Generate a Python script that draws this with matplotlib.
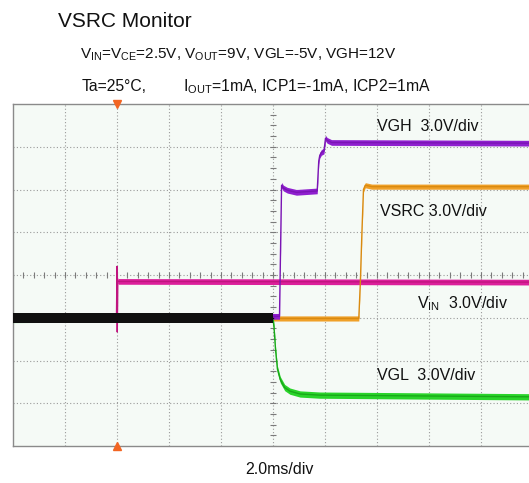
import numpy as np
import matplotlib.pyplot as plt

plt.rcParams['font.family'] = ['Liberation Sans', 'DejaVu Sans']
plt.rcParams['mathtext.fontset'] = 'custom'
plt.rcParams['mathtext.rm'] = 'Liberation Sans'
plt.rcParams['mathtext.it'] = 'Liberation Sans:italic'
plt.rcParams['mathtext.bf'] = 'Liberation Sans:bold'

# ---- scope settings ----
MS_PER_DIV = 2.0
V_PER_DIV = 3.0
T_MIN, T_MAX = -4.0, 16.0      # 10 div of time, trigger at t = 0
V_MIN, V_MAX = -9.0, 15.0      # 8 div of voltage, ground at -1 div

# ---- captured waveforms (t in ms, v in V) ----
# VIN : input rail, steps up at the trigger
t_vin = [-4.0, -0.02, 0.0, 0.01, 0.03, 0.06, 16.0]
v_vin = [0.0, 0.0, 3.6, -1.0, 2.6, 2.55, 2.5]

# VGH : gate-high rail, two-stage rise
t_vgh = [-4.0, 6.25, 6.33, 6.40, 6.55, 6.9, 7.3, 7.7, 7.76, 7.80, 7.86,
         7.96, 8.02, 8.08, 8.25, 16.0]
v_vgh = [0.1, 0.1, 9.3, 9.1, 8.95, 8.8, 8.85, 8.9, 11.0, 11.4, 11.6,
         11.7, 12.6, 12.45, 12.3, 12.25]

# VSRC : source output, comes up after VGH
t_vsrc = [6.0, 9.30, 9.36, 9.42, 9.48, 9.55, 9.8, 16.0]
v_vsrc = [-0.05, -0.05, 2.5, 6.0, 9.0, 9.3, 9.2, 9.2]

# VGL : gate-low rail, negative exponential fall
t_vgl = [-4.0, 6.0, 6.04, 6.10, 6.17, 6.28, 6.45, 6.65, 7.04, 7.8, 16.0]
v_vgl = [-0.12, -0.05, -0.7, -2.3, -3.6, -4.35, -4.9, -5.15, -5.35, -5.43, -5.55]

# all channels sitting on ground before start-up
t_base = [-4.0, 6.0]
v_base = [0.0, 0.0]

C_VIN = '#dc1f9b'
C_VGH = '#8f1fcf'
C_VSRC = '#f0a028'
C_VGL = '#2ad42a'
C_BASE = '#101010'

fig = plt.figure(figsize=(5.29, 4.83), dpi=100)
ax = fig.add_axes([13 / 529, 37 / 483, 520 / 529, 342 / 483])
ax.set_facecolor('#f5faf6')
ax.set_xlim(T_MIN, T_MAX)
ax.set_ylim(V_MIN, V_MAX)
ax.set_xticks([])
ax.set_yticks([])
for s in ax.spines.values():
    s.set_color('#8a8a8a')
    s.set_linewidth(1.0)

# graticule
grid_kw = dict(color='#9a9a9a', lw=0.8, ls=(0, (1, 2)), zorder=1)
for t in np.arange(T_MIN + MS_PER_DIV, T_MAX, MS_PER_DIV):
    ax.axvline(t, **grid_kw)
for v in np.arange(V_MIN + V_PER_DIV, V_MAX, V_PER_DIV):
    ax.axhline(v, **grid_kw)

# minor ticks on the centre cross
t_c = (T_MIN + T_MAX) / 2
v_c = (V_MIN + V_MAX) / 2
tick_t = np.arange(T_MIN, T_MAX + 1e-6, MS_PER_DIV / 5)
tick_v = np.arange(V_MIN, V_MAX + 1e-6, V_PER_DIV / 4)
ax.plot(tick_t, np.full_like(tick_t, v_c), ls='none', marker='|', ms=5,
        mew=0.8, color='#7a7a7a', zorder=1)
ax.plot(np.full_like(tick_v, t_c), tick_v, ls='none', marker='_', ms=5,
        mew=0.8, color='#7a7a7a', zorder=1)


def trace(t, v, color, half, edge, z):
    t = np.asarray(t)
    v = np.asarray(v)
    ax.fill_between(t, v - half, v + half, color=color, lw=0, zorder=z)
    ax.plot(t, v, color=edge, lw=1.0, zorder=z + 0.1)


trace(t_vin, v_vin, C_VIN, 0.2, '#c0157f', 3)
trace(t_vsrc, v_vsrc, C_VSRC, 0.18, '#d98a10', 4)
trace(t_vgl, v_vgl, C_VGL, 0.22, '#19a819', 5)
trace(t_vgh, v_vgh, C_VGH, 0.2, '#7a14b4', 6)
trace(t_base, v_base, C_BASE, 0.34, C_BASE, 7)

# trigger position markers
ax.plot([0], [V_MAX], marker='v', ms=6, color='#f26522', clip_on=False, zorder=9)
ax.plot([0], [V_MIN], marker='^', ms=6, color='#f26522', clip_on=False, zorder=9)

# channel labels
lab_kw = dict(fontsize=11.5, color='#111111', va='center', ha='left', zorder=10)
ax.text(10.0, 13.4, 'VGH  3.0V/div', **lab_kw)
ax.text(10.12, 7.45, 'VSRC 3.0V/div', **lab_kw)
ax.text(11.53, 1.0, r'V$_{\mathrm{IN}}$  3.0V/div', **lab_kw)
ax.text(10.01, -4.03, 'VGL  3.0V/div', **lab_kw)

# headings
fig.text(58 / 529, 1 - 27 / 483, 'VSRC Monitor', fontsize=15, ha='left',
         va='baseline', color='#111111')
fig.text(80 / 529, 1 - 59 / 483,
         r'V$_{\mathrm{IN}}$=V$_{\mathrm{CE}}$=2.5V, V$_{\mathrm{OUT}}$=9V, VGL=-5V, VGH=12V',
         fontsize=11, ha='left', va='baseline', color='#111111')
fig.text(82 / 529, 1 - 91 / 483, 'Ta=25°C,', fontsize=11.3, ha='left',
         va='baseline', color='#111111')
fig.text(183 / 529, 1 - 91 / 483,
         r'I$_{\mathrm{OUT}}$=1mA, ICP1=-1mA, ICP2=1mA',
         fontsize=11.3, ha='left', va='baseline', color='#111111')
fig.text(279 / 529, 1 - 469 / 483, '2.0ms/div', fontsize=11.5, ha='center',
         va='center', color='#111111')

fig.savefig('out.png', dpi=100)
